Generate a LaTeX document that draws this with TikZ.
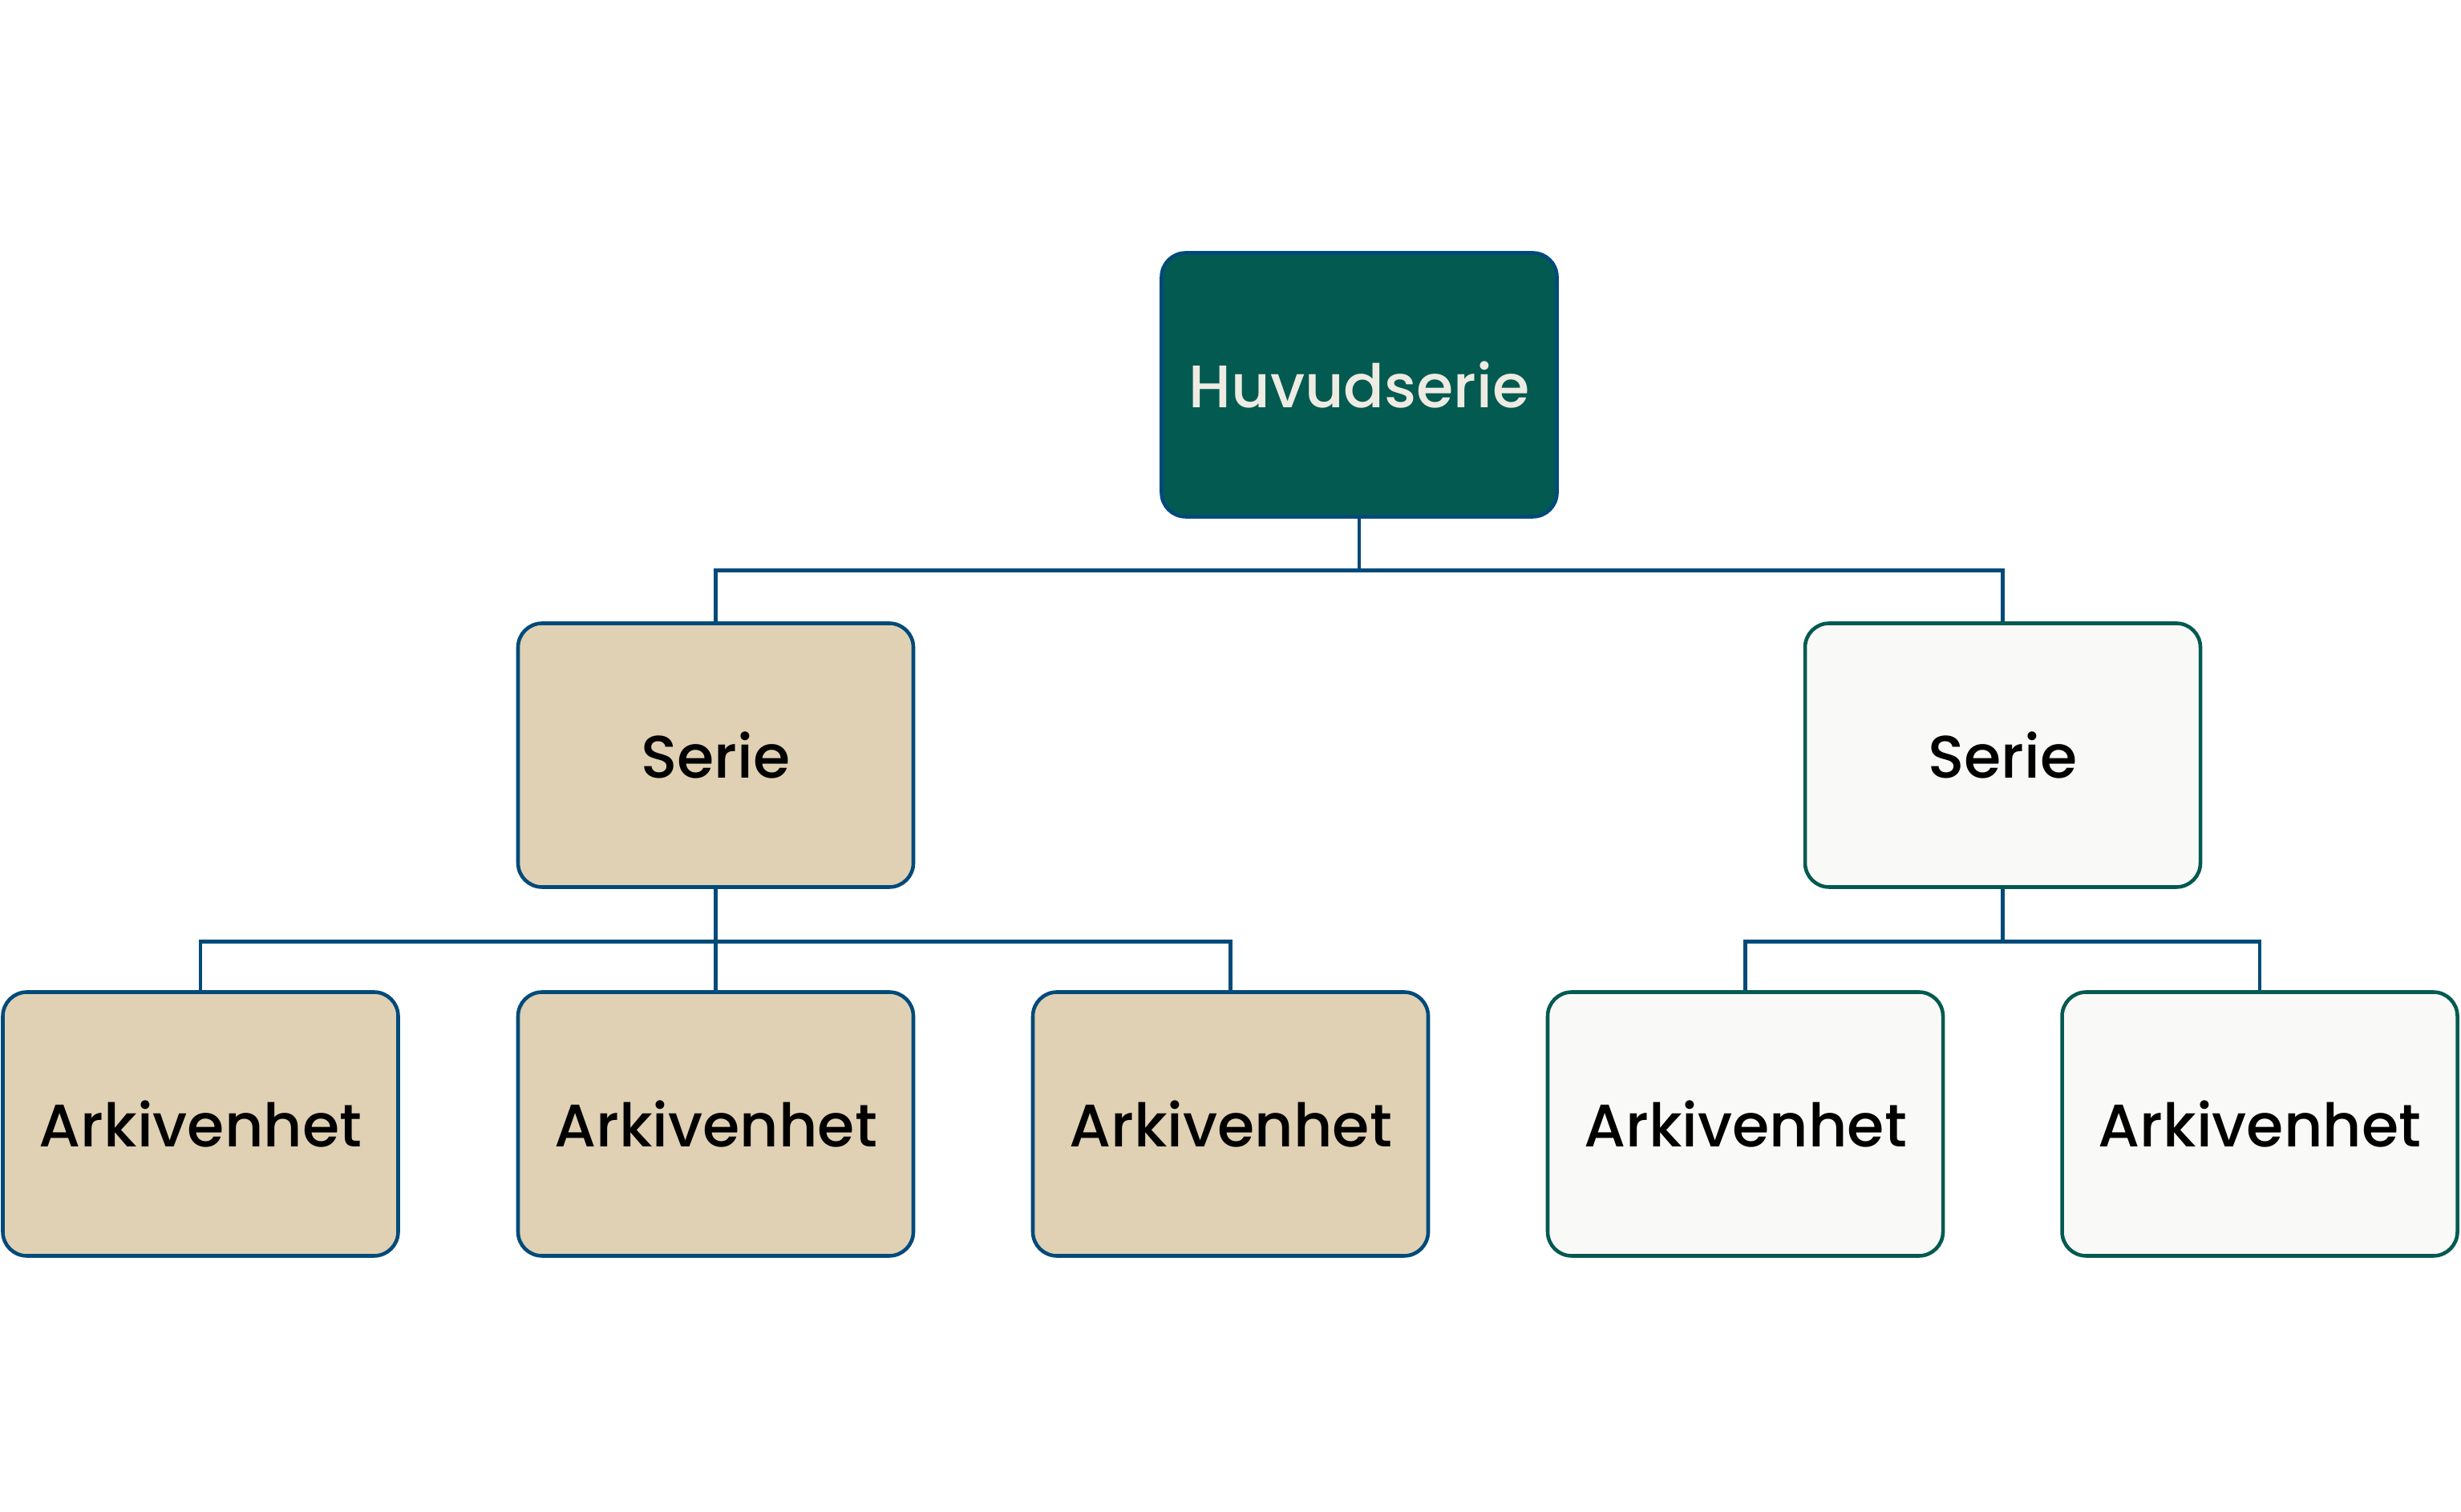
\documentclass[tikz,border=0pt]{standalone}
\usepackage{fontspec}
\setmainfont{Poppins Medium}
\definecolor{tealdark}{HTML}{035A50}
\definecolor{blueline}{HTML}{004A7A}
\definecolor{beige}{HTML}{E0D1B4}
\definecolor{offwhite}{HTML}{F9F9F7}
\definecolor{cream}{HTML}{EEEBE3}
\tikzset{
  box/.style={rectangle, rounded corners=0.3cm, line width=1.3pt,
    minimum width=4.93cm, minimum height=3.29cm, font=\fontsize{21.3}{25}\selectfont},
  mainbox/.style={box, fill=tealdark, draw=blueline, text=cream},
  tanbox/.style={box, fill=beige, draw=blueline},
  palebox/.style={box, fill=offwhite, draw=tealdark},
  link/.style={blueline, line width=1.3pt}
}
\begin{document}
\begin{tikzpicture}
    \useasboundingbox (0,0) rectangle (30.69,18.85);

    % Huvudserie
    \node[mainbox] (hs) at (16.95,14.05) {Huvudserie};

    % Serier
    \node[tanbox]  (sl) at (8.925,9.43) {Serie};
    \node[palebox] (sr) at (24.975,9.43) {Serie};

    % Arkivenheter
    \node[tanbox]  (a1) at (2.50,4.83) {Arkivenhet};
    \node[tanbox]  (a2) at (8.925,4.83) {Arkivenhet};
    \node[tanbox]  (a3) at (15.345,4.83) {Arkivenhet};
    \node[palebox] (a4) at (21.765,4.83) {Arkivenhet};
    \node[palebox] (a5) at (28.18,4.83) {Arkivenhet};

    % Förbindelser
    \draw[link] (hs.south) -- ++(0,-0.65) -| (sl.north);
    \draw[link] (hs.south) -- ++(0,-0.65) -| (sr.north);
    \draw[link] (sl.south) -- ++(0,-0.66) -| (a1.north);
    \draw[link] (sl.south) -- (a2.north);
    \draw[link] (sl.south) -- ++(0,-0.66) -| (a3.north);
    \draw[link] (sr.south) -- ++(0,-0.66) -| (a4.north);
    \draw[link] (sr.south) -- ++(0,-0.66) -| (a5.north);
\end{tikzpicture}
\end{document}
